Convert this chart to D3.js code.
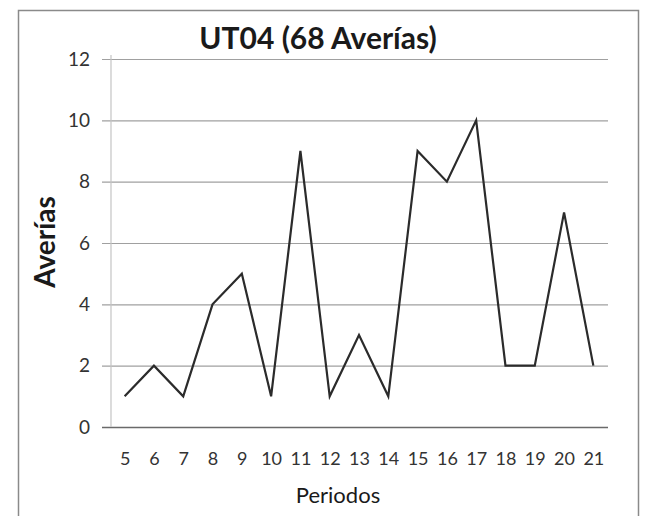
<!DOCTYPE html>
<html>
<head>
<meta charset="utf-8">
<script src="https://cdn.jsdelivr.net/npm/d3@7"></script>
<style>
  body { margin: 0; background: #fff; }
  svg { display: block; }
</style>
</head>
<body>
<svg id="chart" width="647" height="516"></svg>
<script>
// data
const periods = [5, 6, 7, 8, 9, 10, 11, 12, 13, 14, 15, 16, 17, 18, 19, 20, 21];
const averias = [1, 2, 1, 4, 5, 1, 9, 1, 3, 1, 9, 8, 10, 2, 2, 7, 2];
const yTicks = [0, 2, 4, 6, 8, 10, 12];

const titleText = 'UT04 (68 Averías)';
const xTitle = 'Periodos';
const yTitle = 'Averías';

const svg = d3.select('#chart');
const font = 'Lato, "Open Sans", sans-serif';

// plot area
const plotLeft = 110, plotRight = 608, plotTop = 59, plotBottom = 427;

const x = d3.scalePoint().domain(periods).range([plotLeft, plotRight]).padding(0.5);
const y = d3.scaleLinear().domain([0, 12]).range([plotBottom, plotTop]);

// outer chart border
svg.append('rect')
  .attr('x', 18.5).attr('y', 10.5)
  .attr('width', 620).attr('height', 520)
  .attr('fill', 'none')
  .attr('stroke', '#8a8a8a')
  .attr('stroke-width', 1.5);

// gridlines + y labels
const yAxis = svg.append('g')
  .attr('transform', `translate(102,0)`)
  .call(d3.axisLeft(y).tickValues(yTicks).tickSize(-(plotRight - 102)).tickPadding(12));
yAxis.select('.domain').remove();
yAxis.selectAll('.tick line')
  .attr('stroke', d => d === 0 ? '#6a6a6a' : '#a0a0a0')
  .attr('stroke-width', d => d === 0 ? 1.6 : 1.2);
yAxis.selectAll('.tick text')
  .attr('font-family', font)
  .attr('font-size', 19)
  .attr('fill', '#333');

// vertical axis line
svg.append('line')
  .attr('x1', plotLeft + 1).attr('x2', plotLeft + 1)
  .attr('y1', y(12) - 4).attr('y2', y(0))
  .attr('stroke', '#c4c4c4')
  .attr('stroke-width', 1.2);

// x labels
const xAxis = svg.append('g')
  .attr('transform', `translate(0,${plotBottom})`)
  .call(d3.axisBottom(x).tickSize(0).tickPadding(25));
xAxis.select('.domain').remove();
xAxis.selectAll('.tick text')
  .attr('font-family', font)
  .attr('font-size', 18)
  .attr('fill', '#333');

// the series line
const line = d3.line()
  .x((d, i) => x(periods[i]))
  .y(d => y(d));

svg.append('path')
  .datum(averias)
  .attr('d', line)
  .attr('fill', 'none')
  .attr('stroke', '#2b2b2b')
  .attr('stroke-width', 2.2)
  .attr('stroke-linejoin', 'miter');

// titles
svg.append('text')
  .attr('x', 318).attr('y', 49)
  .attr('text-anchor', 'middle')
  .attr('font-family', font)
  .attr('font-weight', 'bold')
  .attr('font-size', 30)
  .attr('fill', '#1a1a1a')
  .text(titleText);

svg.append('text')
  .attr('transform', 'translate(55,242) rotate(-90)')
  .attr('text-anchor', 'middle')
  .attr('font-family', font)
  .attr('font-weight', 'bold')
  .attr('font-size', 28)
  .attr('fill', '#1a1a1a')
  .text(yTitle);

svg.append('text')
  .attr('x', 338).attr('y', 503)
  .attr('text-anchor', 'middle')
  .attr('font-family', font)
  .attr('font-size', 22)
  .attr('fill', '#1a1a1a')
  .text(xTitle);
</script>
</body>
</html>
